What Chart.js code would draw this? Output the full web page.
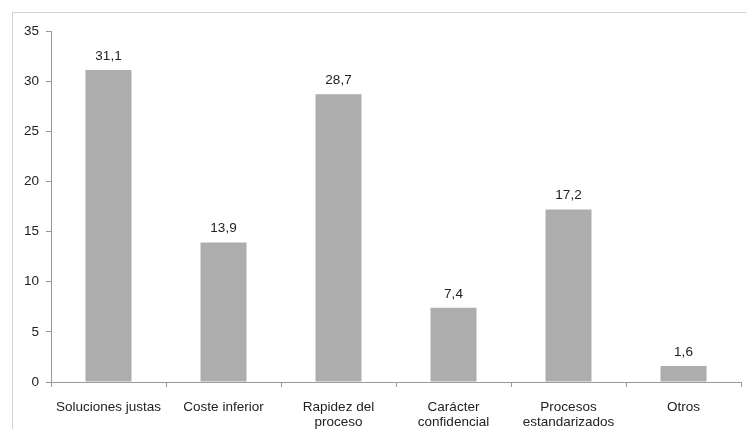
<!DOCTYPE html>
<html>
<head>
<meta charset="utf-8">
<script src="https://cdn.jsdelivr.net/npm/chart.js@4/dist/chart.umd.min.js"></script>
<style>
  html, body { margin: 0; padding: 0; background: #fff; }
  #wrap { position: relative; width: 746px; height: 429px; }
  #frame { position: absolute; left: 12px; top: 12px; right: 0; bottom: 0;
           border-left: 1.5px solid #d2d2d2; border-top: 1.5px solid #d2d2d2; }
  canvas { position: absolute; left: 0; top: 0; }
</style>
</head>
<body>
<div id="wrap">
  <div id="frame"></div>
  <canvas id="c" width="746" height="429"></canvas>
</div>
<script>
// Motivos y porcentajes
const categories = [
  "Soluciones justas",
  "Coste inferior",
  ["Rapidez del", "proceso"],
  ["Carácter", "confidencial"],
  ["Procesos", "estandarizados"],
  "Otros"
];
const values = [31.1, 13.9, 28.7, 7.4, 17.2, 1.6];
const yTicks = [0, 5, 10, 15, 20, 25, 30, 35];

const FONT = "'Liberation Sans', Arial, sans-serif";
const fmt = v => v.toFixed(1).replace('.', ',');

// Value labels above each bar
const valueLabels = {
  id: 'valueLabels',
  afterDatasetsDraw(chart) {
    const ctx = chart.ctx;
    const meta = chart.getDatasetMeta(0);
    ctx.save();
    ctx.font = "13.5px " + FONT;
    ctx.fillStyle = '#222';
    ctx.textAlign = 'center';
    ctx.textBaseline = 'middle';
    meta.data.forEach((bar, i) => {
      ctx.fillText(fmt(values[i]), bar.x, bar.y - 14);
    });
    ctx.restore();
  }
};

new Chart(document.getElementById('c'), {
  type: 'bar',
  data: {
    labels: categories,
    datasets: [{
      data: values,
      backgroundColor: '#adadad',
      borderWidth: 0,
      barPercentage: 0.4,
      categoryPercentage: 1
    }]
  },
  options: {
    responsive: false,
    animation: false,
    layout: { padding: { left: 0, right: 5, top: 31, bottom: 0 } },
    plugins: { legend: { display: false }, tooltip: { enabled: false } },
    scales: {
      x: {
        grid: { display: true, drawOnChartArea: false, offset: true, tickLength: 5, color: '#999' },
        border: { color: '#999', width: 1 },
        ticks: { color: '#222', font: { family: FONT, size: 13.5, lineHeight: 1.1 }, padding: 13, maxRotation: 0, autoSkip: false },
        afterFit(s) { s.height = 47; }
      },
      y: {
        min: 0, max: 35,
        afterBuildTicks(s) { s.ticks = yTicks.map(v => ({ value: v })); },
        grid: { display: true, drawOnChartArea: false, tickLength: 5, color: '#999' },
        border: { color: '#999', width: 1 },
        ticks: { color: '#222', font: { family: FONT, size: 13.5 }, padding: 7 },
        afterFit(s) { s.width = 51; }
      }
    }
  },
  plugins: [valueLabels]
});
</script>
</body>
</html>
